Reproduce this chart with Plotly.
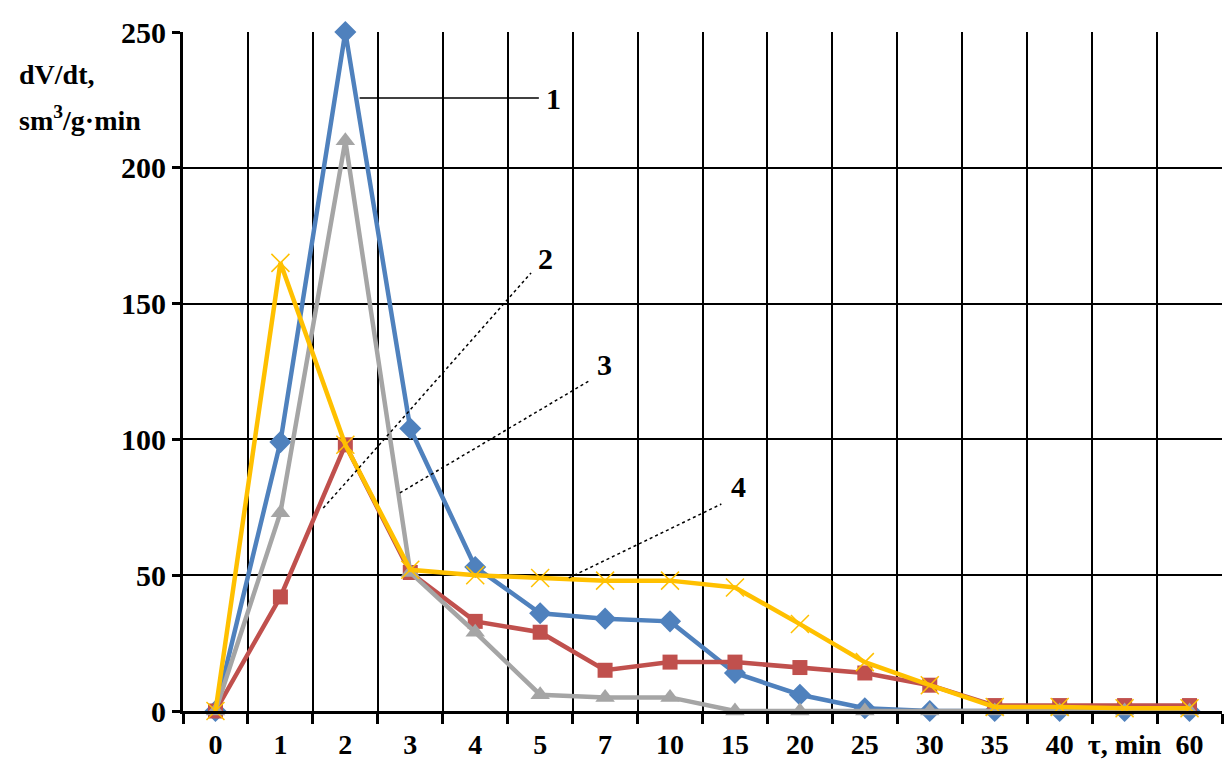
import plotly.graph_objects as go

# Time points (min) and the labels printed under each category
times = ["0", "1", "2", "3", "4", "5", "7", "10", "15", "20", "25", "30", "35", "40", "50", "60"]
tick_labels = ["0", "1", "2", "3", "4", "5", "7", "10", "15", "20", "25", "30", "35", "40", "τ, min", "60"]

# Gas evolution rate dV/dt, sm³/g·min
series_1 = [0, 99, 250, 104, 53, 36, 34, 33, 14, 6, 1, 0, 0, 0, 0, 0]
series_2 = [0, 42, 98, 51, 33, 29, 15, 18, 18, 16, 14, 9.5, 2, 2, 2, 2]
series_3 = [0, 73, 210, 51, 29, 6, 5, 5, 0, 0, 0, 0, 0, 0, 0, 0]
series_4 = [0, 165, 98, 52, 50, 49, 48, 48, 45.5, 32, 18, 9.5, 1.5, 1.5, 1, 1]

styles = [
    (series_1, "1", "#4F81BD", "diamond", 17),
    (series_2, "2", "#C0504D", "square", 15),
    (series_3, "3", "#A5A5A5", "triangle-up", 17),
    (series_4, "4", "#FFC000", "x-thin-open", 18),
]

FONT = "Liberation Serif"

fig = go.Figure()
for values, name, color, symbol, size in styles:
    marker = dict(symbol=symbol, size=size, color=color)
    if symbol == "x-thin-open":
        marker["line"] = dict(color=color, width=1.5)
    fig.add_trace(go.Scatter(
        x=times, y=values, name=name, mode="lines+markers",
        line=dict(color=color, width=4.5), marker=marker, cliponaxis=False,
    ))

# Leader lines from curve numbers to their curves (x in category index units)
leaders = [
    ("1", (2.22, 225.7), (4.98, 225.7), (5.2, 225.7), "solid"),
    ("2", (1.66, 74.7), (4.86, 161.3), (5.08, 166.5), "dot"),
    ("3", (2.84, 80.3), (5.75, 121.5), (5.99, 127.5), "dot"),
    ("4", (5.44, 49.0), (7.79, 76.2), (8.05, 82.5), "dot"),
]
for label, p0, p1, lp, dash in leaders:
    fig.add_shape(type="line", xref="x", yref="y",
                  x0=p0[0], y0=p0[1], x1=p1[0], y1=p1[1],
                  line=dict(color="black", width=1.5, dash=dash))
    fig.add_annotation(x=lp[0], y=lp[1], xref="x", yref="y", text=f"<b>{label}</b>",
                       showarrow=False, font=dict(family=FONT, size=30, color="black"))

# Y axis title in two lines at the top left
fig.add_annotation(x=-0.16, y=0.937, xref="paper", yref="paper",
                   xanchor="left", yanchor="middle",
                   text="<b>dV/dt,</b>", showarrow=False,
                   font=dict(family=FONT, size=28, color="black"))
fig.add_annotation(x=-0.16, y=0.873, xref="paper", yref="paper",
                   xanchor="left", yanchor="middle",
                   text="<b>sm<sup>3</sup>/g·min</b>", showarrow=False,
                   font=dict(family=FONT, size=28, color="black"))

fig.update_layout(
    width=1224, height=776,
    margin=dict(l=183, r=2, t=32, b=65),
    paper_bgcolor="white", plot_bgcolor="white",
    showlegend=False,
    font=dict(family=FONT, color="black"),
    xaxis=dict(
        type="category", categoryorder="array", categoryarray=times,
        tickmode="array", tickvals=times, ticktext=[f"<b>{t}</b>" for t in tick_labels],
        tickson="boundaries", range=[-0.5, 15.5], tickangle=0,
        showgrid=True, gridcolor="black", gridwidth=1.5,
        showline=True, linecolor="black", linewidth=3,
        ticks="outside", ticklen=10, tickwidth=3, tickcolor="black",
        ticklabelstandoff=6,
        tickfont=dict(family=FONT, size=28, color="black"),
        zeroline=False,
    ),
    yaxis=dict(
        range=[0, 250], tickmode="array", tickvals=[0, 50, 100, 150, 200, 250],
        ticktext=[f"<b>{v}</b>" for v in [0, 50, 100, 150, 200, 250]],
        showgrid=True, gridcolor="black", gridwidth=1.5,
        showline=True, linecolor="black", linewidth=3,
        ticks="outside", ticklen=8, tickwidth=3, tickcolor="black",
        tickfont=dict(family=FONT, size=30, color="black"),
        zeroline=False,
    ),
)

fig.write_html("out.html")
